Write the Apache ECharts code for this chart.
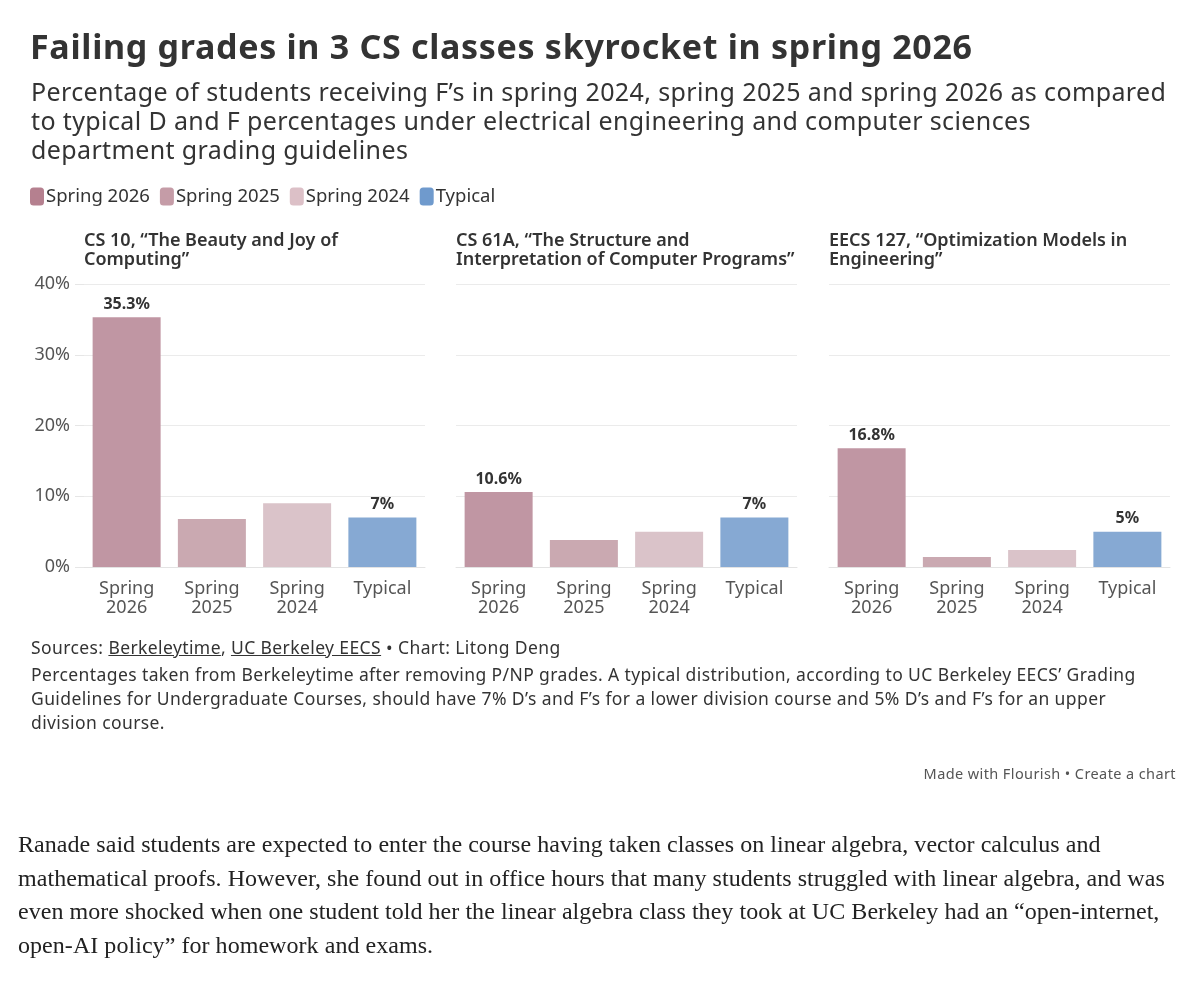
<!DOCTYPE html>
<html>
<head>
<meta charset="utf-8">
<script src="https://cdn.jsdelivr.net/npm/echarts@6/dist/echarts.min.js"></script>
<style>
  body { margin: 0; background: #fff; }
  #wrap { position: relative; width: 1200px; height: 984px; overflow: hidden; }
  #chart { position: absolute; left: 0; top: 0; width: 1200px; height: 984px; }
  .txt { position: absolute; font-family: "Noto Sans", sans-serif; color: #333; white-space: nowrap; }
  #headline { left: 30px; top: 23px; font-size: 34px; font-weight: 700; line-height: 46px; letter-spacing: 0.7px; }
  #sub { left: 31px; top: 77px; font-size: 25px; line-height: 29px; letter-spacing: 0.38px; }
  #foot { left: 31px; top: 635px; font-size: 17.5px; line-height: 24px; letter-spacing: 0.4px; }
  #foot a { color: #333; text-decoration: underline; }
  #made { right: 24px; top: 763px; font-size: 14.5px; color: #555; letter-spacing: 0.4px; }
  #para { left: 18px; top: 828px; font-family: "Liberation Serif", serif; font-size: 24px; line-height: 33.7px; color: #222; letter-spacing: 0.05px; }
</style>
</head>
<body>
<div id="wrap">
  <div id="chart"></div>
  <div class="txt" id="headline">Failing grades in 3 CS classes skyrocket in spring 2026</div>
  <div class="txt" id="sub">Percentage of students receiving F’s in spring 2024, spring 2025 and spring 2026 as compared<br>to typical D and F percentages under electrical engineering and computer sciences<br>department grading guidelines</div>
  <div class="txt" id="foot"><div style="margin-bottom:3px">Sources: <a>Berkeleytime</a>, <a>UC Berkeley EECS</a> • Chart: Litong Deng</div>Percentages taken from Berkeleytime after removing P/NP grades. A typical distribution, according to UC Berkeley EECS’ Grading<br>Guidelines for Undergraduate Courses, should have 7% D’s and F’s for a lower division course and 5% D’s and F’s for an upper<br>division course.</div>
  <div class="txt" id="made">Made with Flourish • Create a chart</div>
  <div class="txt" id="para">Ranade said students are expected to enter the course having taken classes on linear algebra, vector calculus and<br>mathematical proofs. However, she found out in office hours that many students struggled with linear algebra, and was<br>even more shocked when one student told her the linear algebra class they took at UC Berkeley had an “open-internet,<br>open-AI policy” for homework and exams.</div>
</div>
<script>
var categories = ['Spring\n2026', 'Spring\n2025', 'Spring\n2024', 'Typical'];
var seriesNames = ['Spring 2026', 'Spring 2025', 'Spring 2024', 'Typical'];
var panelTitles = [
  'CS 10, “The Beauty and Joy of\nComputing”',
  'CS 61A, “The Structure and\nInterpretation of Computer Programs”',
  'EECS 127, “Optimization Models in\nEngineering”'
];
var cs10 = [35.3, 6.8, 9.0, 7];
var cs61a = [10.6, 3.8, 5.0, 7];
var eecs127 = [16.8, 1.4, 2.4, 5];
var yMin = 0, yMax = 40, yStep = 10;

var panels = [cs10, cs61a, eecs127];
var barColors = ['#c096a3', '#caa9b1', '#dac3c9', '#86a9d3'];
var legendColors = ['#b5808f', '#c59ca7', '#dcc0c7', '#6f9acd'];
var gridLefts = [84, 456, 829];

var chartDom = document.getElementById('chart');
var myChart = echarts.init(chartDom);
var option;

var grids = [], xAxes = [], yAxes = [], titles = [], series = [];
panels.forEach(function (vals, p) {
  grids.push({left: gridLefts[p], width: 341, top: 284, bottom: 417});
  titles.push({
    text: panelTitles[p], left: gridLefts[p], top: 231, padding: 0,
    textStyle: {fontFamily: 'Noto Sans', fontSize: 18, fontWeight: 600, lineHeight: 19, color: '#333'}
  });
  xAxes.push({
    type: 'category', gridIndex: p, data: categories,
    axisLine: {lineStyle: {color: '#e3e3e3'}},
    axisTick: {alignWithLabel: true, length: 6, lineStyle: {color: '#ddd'}},
    axisLabel: {fontFamily: 'Noto Sans', fontSize: 18, lineHeight: 19, color: '#555', margin: 12}
  });
  yAxes.push({
    type: 'value', gridIndex: p, min: yMin, max: yMax, interval: yStep,
    axisLine: {show: false},
    axisTick: {show: p === 0, length: 9, lineStyle: {color: '#e6e6e6'}},
    splitLine: {lineStyle: {color: '#ebebeb'}},
    axisLabel: {show: p === 0, formatter: '{value}%', fontFamily: 'Noto Sans', fontSize: 18, color: '#555', margin: 14}
  });
  seriesNames.forEach(function (name, k) {
    series.push({
      type: 'bar', name: name, stack: 'panel' + p,
      xAxisIndex: p, yAxisIndex: p, barWidth: 68,
      itemStyle: {color: barColors[k]},
      label: {
        show: k === 0 || k === 3, position: 'top', distance: 5,
        formatter: function (d) { return d.value + '%'; },
        fontFamily: 'Noto Sans', fontSize: 16, fontWeight: 700, color: '#333'
      },
      data: categories.map(function (c, i) { return i === k ? vals[k] : '-'; })
    });
  });
});

option = {
  backgroundColor: '#fff',
  animation: false,
  title: titles,
  legend: {
    left: 30, top: 187, padding: 0, itemGap: 10, itemWidth: 14, itemHeight: 18,
    icon: 'roundRect',
    textStyle: {fontFamily: 'Noto Sans', fontSize: 18.5, color: '#333', padding: [0, 0, 0, -3]},
    data: seriesNames.map(function (n, k) { return {name: n, itemStyle: {color: legendColors[k]}}; })
  },
  grid: grids,
  xAxis: xAxes,
  yAxis: yAxes,
  series: series
};
option && myChart.setOption(option);
</script>
</body>
</html>
